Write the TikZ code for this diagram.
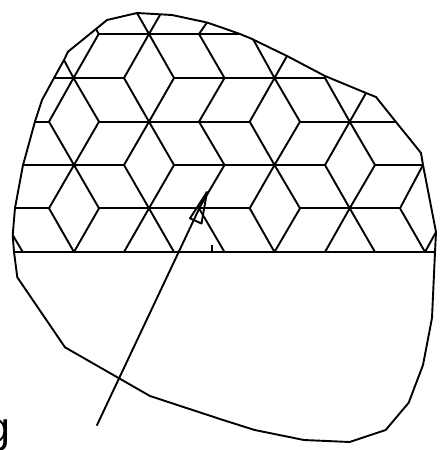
\documentclass[tikz,border=0pt]{standalone}
\usepackage{fontspec}
\setmainfont{Liberation Sans}
\begin{document}
\begin{tikzpicture}[x=1pt,y=-1pt,line join=round,
  outline/.style={line width=1.9pt,black},
  lattice/.style={line width=1.9pt,black},
  baseline rule/.style={line width=2.4pt,black},
  pointer/.style={line width=1.9pt,black}]
\useasboundingbox (0,0) rectangle (446,450);
\clip (0,0) rectangle (446,450);
% outline
\draw[outline] (137,13)--(172,15)--(207,22.5)--(223,28)--(240,34)--(251,38.5)--(287,56)--(325,76)--(366,93)--(376,97)
 --(396,122)--(413,143)--(421,153)--(423,165)--(436,232)--(435,252)--(432,318)--(423,365)--(408.7,402.7)--(385.7,430)
 --(349.7,442)--(304,440)--(254.7,430)--(223,420)--(150,396)--(65,347.3)--(17.3,277.3)--(14,252)--(12.7,235)--(15,208)
 --(23,165)--(25,158)--(35,121.5)--(42,100)--(54,78)--(64,60)--(68,51.7)--(96,29)--(107,20)--cycle;
% horizontals
\draw[lattice] (98.7,34)--(240,34);
\draw[lattice] (54,78)--(124,78) (174,78)--(325,78);
\draw[lattice] (35,122)--(49,122) (99,122)--(249.7,122) (300,122)--(396,122);
\draw[lattice] (23,165)--(124,165) (174,165)--(325,165) (375,165)--(423,165);
\draw[lattice] (15,208.3)--(49,208.3) (99,208.3)--(249.7,208.3) (300,208.3)--(400,208.3);
\draw[baseline rule] (14,252)--(435,252);
% slanted: top
\draw[lattice] (137,13)--(149,34)--(160,15);
\draw[lattice] (96,29)--(98.7,34)--(73.5,78)--(64,60);
\draw[lattice] (73.5,78)--(49,121.7)--(74,165)--(99,121.7)--(73.5,78);
\draw[lattice] (149,34)--(124,78)--(149,121.7)--(174,78)--cycle;
\draw[lattice] (207,22.5)--(199,34)--(224.5,78)--(199,121.7)--(224.5,165)--(199,208.3)--(224.5,252);
\draw[lattice] (253,39)--(274.5,78)--(287,56);
\draw[lattice] (274.5,78)--(249.7,121.7)--(274.5,165)--(300,121.7)--cycle;
\draw[lattice] (325,75.5)--(325,78)--(349.7,121.7)--(366,93);
\draw[lattice] (149,121.7)--(124,165)--(149,208.3)--(174,165)--cycle;
\draw[lattice] (124,252)--(149,208.3)--(174,252);
\draw[lattice] (349.7,121.7)--(325,165)--(349.7,208.3)--(375,165)--cycle;
\draw[lattice] (325,252)--(349.7,208.3)--(375,252);
\draw[lattice] (74,165)--(49,208.3)--(74,252)--(99,208.3)--cycle;
\draw[lattice] (274.5,165)--(249.7,208.3)--(274.5,252)--(300,208.3)--cycle;
\draw[lattice] (423,165)--(400,208.3)--(425,252)--(436,232);
\draw[lattice] (12.7,235)--(22.7,252);
% tick
\draw[line width=2pt] (211.7,245)--(211.7,252);
% pointer
\coordinate (tail) at (96.7,425.7);
\coordinate (tip) at (207,192);
\coordinate (bl) at (190,218.3);
\coordinate (br) at (201.5,223.5);
\draw[pointer] (tail)--(tip);
\draw[pointer] (tip)--(bl)--(br)--cycle;
% clipped letter
\node[anchor=base east,inner sep=0pt,font=\fontsize{43pt}{43pt}\selectfont] (letter) at (10.8,442.5) {g};
\end{tikzpicture}
\end{document}
